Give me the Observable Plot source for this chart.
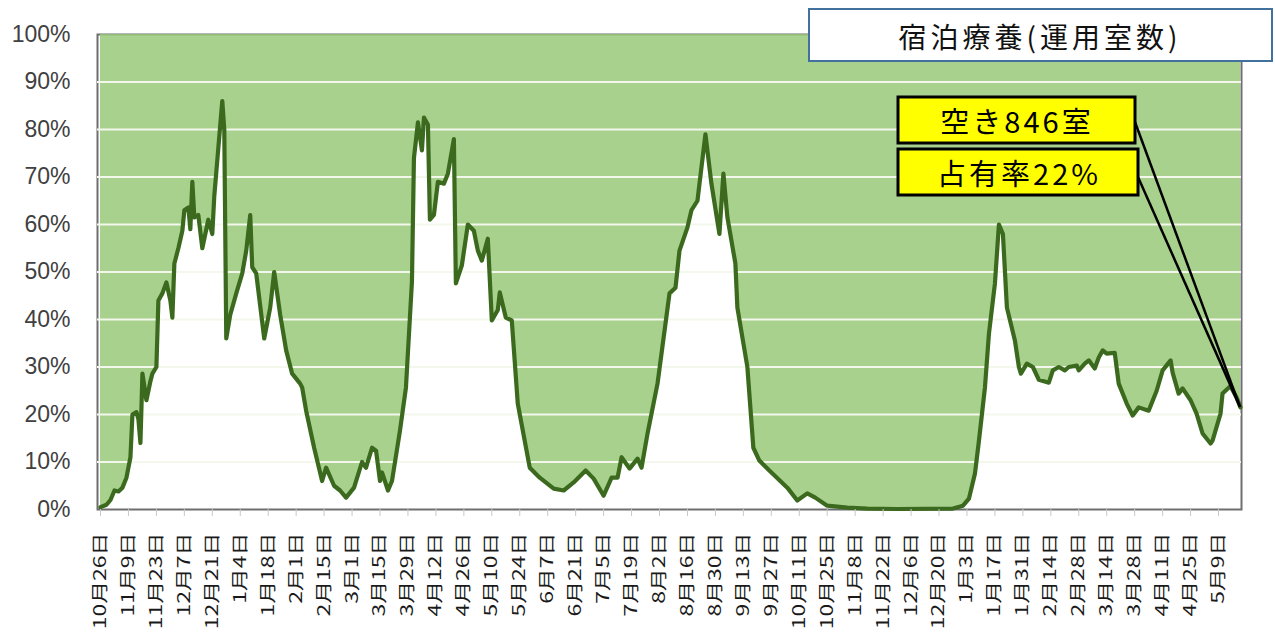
<!DOCTYPE html>
<html>
<head>
<meta charset="utf-8">
<script src="https://cdn.jsdelivr.net/npm/d3@7"></script>
<script src="https://cdn.jsdelivr.net/npm/@observablehq/plot@0.6"></script>
<style>
  html, body { margin: 0; padding: 0; background: #fff; }
  #chart { position: relative; width: 1275px; height: 636px; }
</style>
</head>
<body>
<div id="chart"></div>
<script>
// Days counted from 2020-10-26 (first category)
const days = [0,3,5,7,9,11,13,15,16,18,19,20,21,23,25,26,28,29,31,33,35,36,37,39,41,42,44,45,46,47,49,51,54,56,57,59,61,62,63,65,68,71,73,75,76,78,82,85,87,90,93,96,100,101,103,107,111,113,117,120,123,127,131,133,136,138,140,141,144,146,150,153,156,157,159,161,162,164,165,167,169,172,174,177,178,181,184,187,189,191,194,196,199,200,203,206,209,215,220,227,232,237,243,247,252,256,259,261,265,269,271,274,279,285,288,290,294,296,299,303,306,310,312,314,318,319,324,327,330,335,344,349,354,358,364,374,384,399,427,432,435,438,440,443,445,448,450,452,454,458,460,461,464,467,470,475,477,480,483,485,489,490,493,495,498,500,502,504,508,510,514,517,520,525,529,532,536,537,540,542,546,549,552,556,557,561,562,566,569,571];
// Occupancy rate (%)
const rates = [0.5,1,2,4,3.8,4.6,6.7,11,20,20.5,19,14,28.6,23,27,28.6,30,44,45.5,47.8,44,40.4,51.8,55,58.7,63,63.6,59,69,61.5,62,55,61,58,66,76,86,80,36,41,45.5,49.7,54.5,62,51,49.7,36,42.5,50,41,33.5,28.6,26.5,25.7,20.8,13,6,8.8,5,4,2.5,4.6,10,8.8,13,12.4,6,7.8,4,6,16.6,25.7,48,74,81.5,75.6,82.5,81,61,62,69,68.6,70.7,78,47.6,51.4,60,58.7,54.5,52.4,57,39.8,42,45.7,40.4,39.8,22.3,8.8,6.7,4.4,4,5.7,8.2,6.5,2.9,6.7,6.7,11,8.6,10.7,8.8,16,26.5,45.5,46.7,54.5,59.4,63,65,79,68.6,58,70.7,61.5,51.8,42.5,30,13,10.3,8.2,4.6,1.9,3.4,2.5,0.8,0.4,0.2,0.1,0.2,0.8,2.3,7.6,14.5,25.7,37,47.6,60,58,42.5,35.6,30,28.6,30.7,30,27.3,26.7,29.3,30,29.3,30,30.3,29.3,30.7,31.4,29.7,32,33.5,32.8,33,26.5,22.3,19.8,21.5,20.8,25,29.3,31.4,28.8,24.4,25.5,23,20.2,16,13.9,14.5,20.2,24.4,26,23.6,21.5];

const tickLabels = ["10月26日","11月9日","11月23日","12月7日","12月21日","1月4日","1月18日","2月1日","2月15日","3月1日","3月15日","3月29日","4月12日","4月26日","5月10日","5月24日","6月7日","6月21日","7月5日","7月19日","8月2日","8月16日","8月30日","9月13日","9月27日","10月11日","10月25日","11月8日","11月22日","12月6日","12月20日","1月3日","1月17日","1月31日","2月14日","2月28日","3月14日","3月28日","4月11日","4月25日","5月9日"];
const tickDays = tickLabels.map((_, i) => i * 14);
const yTicks = [0,10,20,30,40,50,60,70,80,90,100];
const gridValues = [10,20,30,40,50,60,70,80,90];

const titleText = "宿泊療養(運用室数)";
const noteVacant = "空き846室";
const noteRate = "占有率22%";

const table = days.map((d, i) => ({day: d, rate: rates[i]}));

const plot = Plot.plot({
  width: 1275,
  height: 636,
  marginLeft: 97,
  marginRight: 34,
  marginTop: 34,
  marginBottom: 127,
  style: {fontFamily: "'Liberation Sans', 'Noto Sans CJK JP', sans-serif", background: "#fff"},
  x: {type: "linear", domain: [-1.5, 571.5], label: null},
  y: {domain: [0, 100], label: null},
  marks: [
    Plot.frame({stroke: "#6e6e6e", strokeWidth: 2}),
    Plot.areaY(table, {x: "day", y1: "rate", y2: 100, fill: "#9ac97a", fillOpacity: 0.85, curve: "linear"}),
    Plot.ruleY(gridValues, {stroke: "#f3f7ec", strokeWidth: 2}),
    Plot.lineY(table, {x: "day", y: "rate", stroke: "#3b6a1f", strokeWidth: 4.2, curve: "linear", strokeLinejoin: "round"}),
    Plot.axisY({ticks: yTicks, tickFormat: d => d + "%", tickSize: 0, tickPadding: 27, fontSize: 23, fill: "#404040", label: null}),
    Plot.axisX({ticks: tickDays, tickFormat: (d, i) => tickLabels[i], tickRotate: -90, tickSize: 7, tickPadding: 16, fontSize: 17, stroke: "#c8c8c8", fill: "#1a1a1a", fontFamily: "'Noto Sans CJK JP', sans-serif", label: null})
  ]
});

document.getElementById("chart").appendChild(plot);

const svg = d3.select(plot);
// stretch rotated x labels along their reading direction
svg.selectAll('g[aria-label="x-axis tick label"] text').each(function() {
  const t = this.getAttribute("transform") || "";
  this.setAttribute("transform", t + " scale(1.35,1)");
});

const xs = plot.scale("x"), ys = plot.scale("y");
const last = table[table.length - 1];
const ex = xs.apply(last.day), ey = ys.apply(last.rate);

const g = svg.append("g");
// leader lines
g.append("line").attr("x1", 1135).attr("y1", 122).attr("x2", ex).attr("y2", ey).attr("stroke", "#000").attr("stroke-width", 2.5);
g.append("line").attr("x1", 1138).attr("y1", 177).attr("x2", ex).attr("y2", ey).attr("stroke", "#000").attr("stroke-width", 2.5);

const cjk = "'Noto Sans CJK JP', sans-serif";
// title box
g.append("rect").attr("x", 809).attr("y", 9).attr("width", 463).attr("height", 52)
  .attr("fill", "#fff").attr("stroke", "#41719c").attr("stroke-width", 2);
g.append("text").attr("x", 1040).attr("y", 36).attr("text-anchor", "middle").attr("dominant-baseline", "central")
  .attr("font-family", cjk).attr("font-size", 28).attr("letter-spacing", 4).attr("fill", "#111").text(titleText);

// yellow boxes
g.append("rect").attr("x", 898).attr("y", 97).attr("width", 237).attr("height", 46)
  .attr("fill", "#ffff00").attr("stroke", "#000").attr("stroke-width", 3);
g.append("text").attr("x", 1017).attr("y", 120).attr("text-anchor", "middle").attr("dominant-baseline", "central")
  .attr("font-family", cjk).attr("font-size", 29).attr("letter-spacing", 3).attr("fill", "#000").text(noteVacant);
g.append("rect").attr("x", 898).attr("y", 149).attr("width", 240).attr("height", 46)
  .attr("fill", "#ffff00").attr("stroke", "#000").attr("stroke-width", 3);
g.append("text").attr("x", 1019).attr("y", 172).attr("text-anchor", "middle").attr("dominant-baseline", "central")
  .attr("font-family", cjk).attr("font-size", 29).attr("letter-spacing", 3).attr("fill", "#000").text(noteRate);
</script>
</body>
</html>
